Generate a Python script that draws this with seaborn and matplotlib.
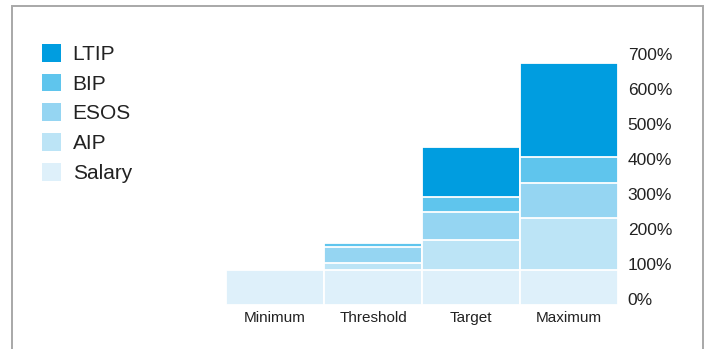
import matplotlib
matplotlib.use("Agg")
import matplotlib.pyplot as plt
from matplotlib.patches import Patch, Rectangle
import pandas as pd
import seaborn as sns

# Pay scenarios (percentage of salary)
scenarios = ["Minimum", "Threshold", "Target", "Maximum"]
salary = [100, 100, 100, 100]
aip = [0, 21, 86, 148]
esos = [0, 46, 79, 100]
bip = [0, 10, 44, 76]
ltip = [0, 0, 142, 268]

components = ["Salary", "AIP", "ESOS", "BIP", "LTIP"]
colors = {
    "Salary": "#def0fa",
    "AIP": "#bce4f6",
    "ESOS": "#95d5f2",
    "BIP": "#5fc5ed",
    "LTIP": "#009de0",
}
yticks = [0, 100, 200, 300, 400, 500, 600, 700]

df = pd.DataFrame({"scenario": scenarios, "Salary": salary, "AIP": aip,
                   "ESOS": esos, "BIP": bip, "LTIP": ltip})

sns.set_theme(style="white")
plt.rcParams["font.family"] = ["Liberation Sans", "DejaVu Sans"]

fig = plt.figure(figsize=(7.07, 3.49), dpi=100)
W, H = 707, 349
ax = fig.add_axes([226 / W, 44 / H, 392 / W, 245 / H])

# Stacked bars drawn as cumulative layers, tallest first
cum = df[components].cumsum(axis=1)
for comp in reversed(components):
    sns.barplot(x=df["scenario"], y=cum[comp], color=colors[comp],
                width=1.0, saturation=1, edgecolor="white", linewidth=1.3,
                ax=ax)

ax.set_xlim(-0.5, 3.5)
ax.set_ylim(0, 700)
ax.set_xlabel("")
ax.set_ylabel("")
for s in ax.spines.values():
    s.set_visible(False)

ax.yaxis.tick_right()
ax.set_yticks(yticks)
ax.set_yticklabels([f"{v}%" for v in yticks])
ax.tick_params(axis="y", length=0, pad=7, labelsize=12.5, labelcolor="#222222")
ax.tick_params(axis="x", length=0, pad=4, labelsize=11, labelcolor="#222222")
for lbl in ax.get_yticklabels():
    lbl.set_verticalalignment("baseline")

# Legend, top component first
handles = [Patch(facecolor=colors[c], edgecolor="none") for c in reversed(components)]
fig.legend(handles, list(reversed(components)), loc="upper left",
           bbox_to_anchor=(42 / W, 1 - 44 / H), frameon=False, fontsize=15,
           handlelength=0.92, handleheight=0.92, handletextpad=0.55,
           labelspacing=0.47, borderaxespad=0, borderpad=0,
           labelcolor="#222222")

# Grey frame around the panel (open at the bottom)
fig.patches.append(Rectangle((11.5 / W, -0.2), 691 / W, 1.2 - 5.7 / H,
                             transform=fig.transFigure, fill=False,
                             edgecolor="#a8a8a8", linewidth=1.4))

fig.savefig("out.png", dpi=100)
